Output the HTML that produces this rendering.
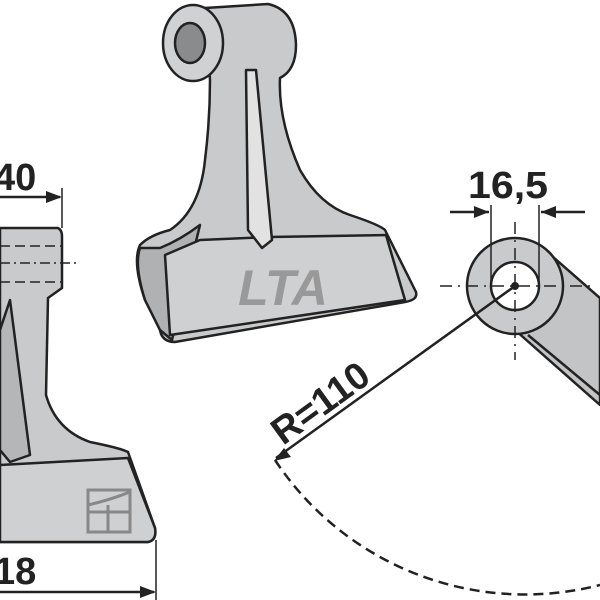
<!DOCTYPE html>
<html><head><style>body{margin:0;background:#fff}svg{display:block}</style></head><body>
<svg width="600" height="600" viewBox="0 0 600 600" xmlns="http://www.w3.org/2000/svg" font-family="Liberation Sans, sans-serif">
<g stroke="#222" stroke-width="2.5" stroke-linejoin="round">
<!-- center hammer -->
<path d="M205,8 L268,4 Q295,10 296,45 Q296,70 280,78 Q278,120 300,170 Q320,205 350,215 Q380,225 385,230 L416,292 Q418,300 405,302 L175,342 Q162,342 160,330 L145,300 Q132,262 140,245 Q150,235 170,230 Q200,210 205,160 Q210,120 210,80 Z" fill="#c9cacb"/>
<path d="M160,248 Q180,240 200,225 L172,340 L160,330 L145,300 Q134,265 140,248 Z" fill="#b0b1b2"/>
<path d="M165,255 L170,335 L405,300 L386,235 L270,237 L200,240 Z" fill="#cfd0d1"/>
<path d="M246,70 L256,70 L272,240 L262,248 L248,230 Z" fill="#e2e2e2"/>
<ellipse cx="193" cy="43" rx="30" ry="38" fill="#d0d1d2"/>
<ellipse cx="190" cy="43" rx="15" ry="20" fill="#8a8b8c"/>
<text x="283" y="305" font-size="50" font-weight="bold" font-style="italic" fill="#999" stroke="none" text-anchor="middle">LTA</text>
<!-- left hammer -->
<path d="M0,228 L58,228 Q62,230 62,236 L62,288 L48,298 L46,395 Q56,430 90,442 Q120,448 128,452 L155,528 Q157,540 148,542 L0,542 Z" fill="#c9cacb"/>
<path d="M0,465 L128,458 L155,528 Q157,540 148,542 L0,542 Z" fill="#cfd0d1"/>
<path d="M10,300 L30,455 L10,462 L0,450 L0,330 Z" fill="#b5b6b7"/>
<!-- right hammer -->
<path d="M545,250 L600,298 L600,405 L515,330 Z" fill="#c3c4c5"/>
<circle cx="515" cy="286" r="48" fill="#c9cacb"/>
<circle cx="515" cy="286" r="24" fill="#fff"/>
</g>
<g fill="none" stroke="#222" stroke-width="1.5">
<path d="M0,246 H62 M0,282 H62" stroke-dasharray="10,5"/>
<path d="M0,263 H78" stroke-dasharray="10,4,2,4"/>
<path d="M440,286 H590 M515,222 V360" stroke-dasharray="12,6,2,6"/>
<rect x="88" y="490" width="42" height="42" stroke="#888" stroke-width="3"/>
<path d="M88,505 Q110,500 130,492 M108,505 V532 M88,512 H130" stroke="#888" stroke-width="3" fill="none"/>
<path d="M62,188 V228 M156,540 V600 M491,205 V286 M539,205 V286"/>
<path d="M0,197 H60 M0,592 H154 M450,212 H489 M585,212 H541 M515,286 L276,458" stroke-width="2.5"/>
<path d="M275,460 A300,300 0 0 0 600,585" stroke-width="2.5" stroke-dasharray="10,6"/>
<path d="M528,335 L600,395" stroke-width="2.5"/>
</g>
<g fill="#222">
<path d="M62,197 L46,191 L46,203 Z"/>
<path d="M156,592 L140,586 L140,598 Z"/>
<path d="M489,212 L474,206 L474,218 Z"/>
<path d="M541,212 L556,206 L556,218 Z"/>
<path d="M274,461 L284,448 L291,457 Z"/>
<circle cx="515" cy="286" r="4"/>
</g>
<g font-size="38" font-weight="bold" fill="#222">
<text x="-6" y="190">40</text>
<text x="-6" y="584">18</text>
<text x="468" y="198" textLength="80" lengthAdjust="spacingAndGlyphs">16,5</text>
<text x="0" y="0" transform="translate(283,446) rotate(-36)">R=110</text>
</g>
</svg>
</body></html>
